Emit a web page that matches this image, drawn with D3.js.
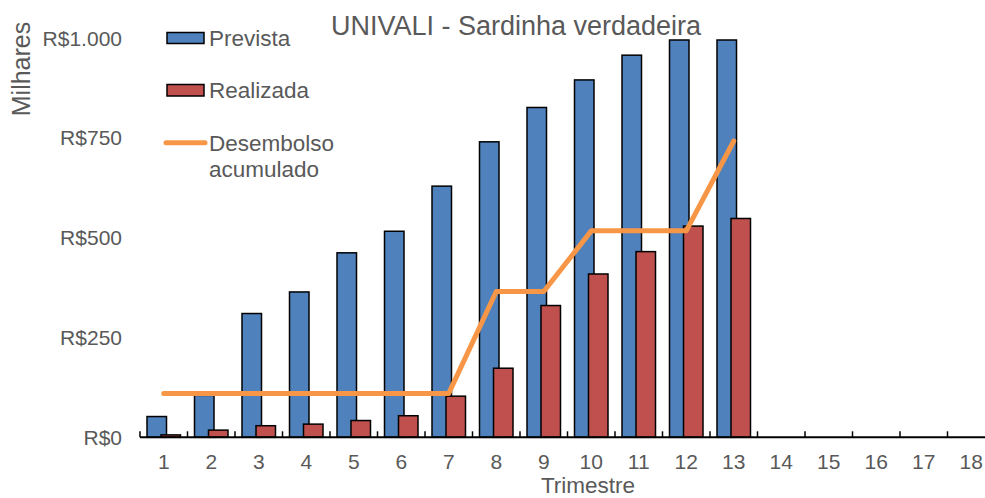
<!DOCTYPE html>
<html>
<head>
<meta charset="utf-8">
<script src="https://cdn.jsdelivr.net/npm/d3@7"></script>
<style>
body{margin:0;background:#fff;}
text{font-family:"Liberation Sans",Arial,sans-serif;fill:#595959;}
</style>
</head>
<body>
<div id="chart"></div>
<script>
var width=985, height=498;

// dados (milhares de R$)
var trimestres=["1","2","3","4","5","6","7","8","9","10","11","12","13","14","15","16","17","18"];
var prevista=[52,105,310,364,462,516,629,740,826,895,957,995,995];
var realizada=[6,18,29,33,42,54,103,173,330,409,465,529,548];
var desembolso=[110,110,110,110,110,110,110,365,365,517,517,517,742];
var yTicks=[0,250,500,750,1000];

var svg=d3.select("#chart").append("svg")
  .attr("width",width)
  .attr("height",height);

var x=d3.scaleBand()
  .domain(trimestres)
  .range([140,995])
  .padding(0);

var y=d3.scaleLinear()
  .domain([0,1000])
  .range([437.3,38]);

var ptBR=d3.formatLocale({decimal:",",thousands:".",grouping:[3],currency:["R$",""]});
var fmt=ptBR.format("$,.0f");

var barW=19.5;

// barras prevista
svg.append("g").selectAll("rect")
  .data(prevista)
  .enter()
  .append("rect")
  .attr("x",function(d,i){return x(trimestres[i])+7;})
  .attr("y",function(d){return y(d);})
  .attr("width",barW)
  .attr("height",function(d){return y(0)-y(d);})
  .attr("fill","#4F81BD")
  .attr("stroke","#000")
  .attr("stroke-width",1.5);

// barras realizada
svg.append("g").selectAll("rect")
  .data(realizada)
  .enter()
  .append("rect")
  .attr("x",function(d,i){return x(trimestres[i])+21;})
  .attr("y",function(d){return y(d);})
  .attr("width",barW)
  .attr("height",function(d){return y(0)-y(d);})
  .attr("fill","#C0504D")
  .attr("stroke","#000")
  .attr("stroke-width",1.5);

// eixo x
var xAxis=svg.append("g")
  .attr("transform","translate(0,"+y(0)+")");
xAxis.append("line")
  .attr("x1",140).attr("x2",995)
  .attr("stroke","#000").attr("stroke-width",2);
xAxis.selectAll(".tk")
  .data(trimestres)
  .enter()
  .append("line")
  .attr("x1",function(d){return x(d);})
  .attr("x2",function(d){return x(d);})
  .attr("y1",0).attr("y2",-6)
  .attr("stroke","#000").attr("stroke-width",1.5);
xAxis.selectAll(".lbl")
  .data(trimestres)
  .enter()
  .append("text")
  .attr("x",function(d){return x(d)+x.bandwidth()/2;})
  .attr("y",31.5)
  .style("font-size","21px")
  .style("text-anchor","middle")
  .text(function(d){return d;});

// eixo y (somente rotulos)
svg.append("g").selectAll("text")
  .data(yTicks)
  .enter()
  .append("text")
  .attr("x",122)
  .attr("y",function(d){return y(d);})
  .attr("dy","0.36em")
  .style("font-size","21px")
  .style("text-anchor","end")
  .text(function(d){return fmt(d);});

// linha desembolso acumulado
var line=d3.line()
  .x(function(d,i){return x(trimestres[i])+x.bandwidth()/2;})
  .y(function(d){return y(d);});
svg.append("path")
  .datum(desembolso)
  .attr("d",line)
  .attr("fill","none")
  .attr("stroke","#F79646")
  .attr("stroke-width",5)
  .attr("stroke-linecap","round")
  .attr("stroke-linejoin","round");

// titulos
svg.append("text")
  .attr("x",516)
  .attr("y",35)
  .style("font-size","27px")
  .style("text-anchor","middle")
  .text("UNIVALI - Sardinha verdadeira");

svg.append("text")
  .attr("x",588)
  .attr("y",493)
  .style("font-size","22.5px")
  .style("text-anchor","middle")
  .text("Trimestre");

svg.append("text")
  .attr("transform","translate(30,69) rotate(-90)")
  .style("font-size","25px")
  .style("text-anchor","middle")
  .text("Milhares");

// legenda
var lg=svg.append("g");
lg.append("rect").attr("x",167).attr("y",32.5).attr("width",37).attr("height",11)
  .attr("fill","#4F81BD").attr("stroke","#000").attr("stroke-width",1.5);
lg.append("text").attr("x",209).attr("y",45.5).style("font-size","22.5px").text("Prevista");
lg.append("rect").attr("x",167).attr("y",84.5).attr("width",37).attr("height",11.5)
  .attr("fill","#C0504D").attr("stroke","#000").attr("stroke-width",1.5);
lg.append("text").attr("x",209).attr("y",97.5).style("font-size","22.5px").text("Realizada");
lg.append("line").attr("x1",166).attr("x2",205).attr("y1",142.7).attr("y2",142.7)
  .attr("stroke","#F79646").attr("stroke-width",5).attr("stroke-linecap","round");
lg.append("text").attr("x",209).attr("y",150.5).style("font-size","22.5px").text("Desembolso");
lg.append("text").attr("x",209).attr("y",176.5).style("font-size","22.5px").text("acumulado");
</script>
</body>
</html>
